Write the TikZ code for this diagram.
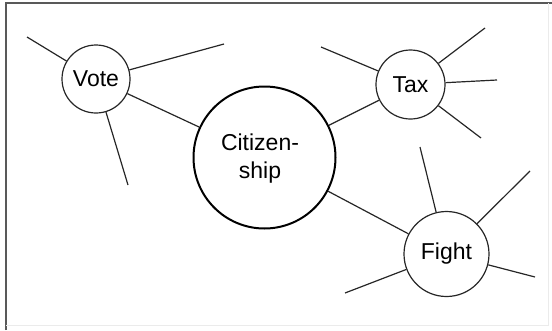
\documentclass[tikz,border=0pt]{standalone}
\usepackage{fontspec}
\setmainfont{Liberation Sans}
\begin{document}
\begin{tikzpicture}[x=1pt,y=-1pt,
  spoke/.style={draw=black!85, line width=1.2pt},
  smallc/.style={circle, draw=black!85, line width=1.2pt, inner sep=0pt, font=\fontsize{23}{28}\selectfont},
  bigc/.style={circle, draw=black, line width=2pt, inner sep=0pt},
  lbl/.style={font=\fontsize{23}{28}\selectfont, align=center, inner sep=0pt}]
\useasboundingbox (0,0) rectangle (552,330);
% frame
\draw[black!65, line width=2pt] (6,330) -- (6,3) -- (552,3);
\draw[black!8, line width=1pt] (548,3) -- (548,325) -- (6,325);
% nodes
\node[bigc, minimum size=142pt] (cit) at (264.5,157.5) {};
\node[lbl] (citt) at (260,158.5) {Citizen-\\ship};
\node[smallc, minimum size=68pt] (vote) at (96,79) {Vote};
\node[smallc, minimum size=69pt] (tax) at (410.5,84.5) {Tax};
\node[smallc, minimum size=85pt] (fight) at (446.5,254) {Fight};
% free ends
\coordinate (v1) at (27,37);
\coordinate (v2) at (224,44);
\coordinate (v3) at (128,185);
\coordinate (t1) at (321,47);
\coordinate (t2) at (485,28);
\coordinate (t3) at (497,80);
\coordinate (t4) at (481,138);
\coordinate (f1) at (420,147);
\coordinate (f2) at (530,171);
\coordinate (f3) at (535,277);
\coordinate (f4) at (345,293);
% connectors
\draw[spoke] (vote) -- (cit);
\draw[spoke] (tax) -- (cit);
\draw[spoke] (fight) -- (cit);
\draw[spoke] (vote) -- (v1);
\draw[spoke] (vote) -- (v2);
\draw[spoke] (vote) -- (v3);
\draw[spoke] (tax) -- (t1);
\draw[spoke] (tax) -- (t2);
\draw[spoke] (tax) -- (t3);
\draw[spoke] (tax) -- (t4);
\draw[spoke] (fight) -- (f1);
\draw[spoke] (fight) -- (f2);
\draw[spoke] (fight) -- (f3);
\draw[spoke] (fight) -- (f4);
\end{tikzpicture}
\end{document}
